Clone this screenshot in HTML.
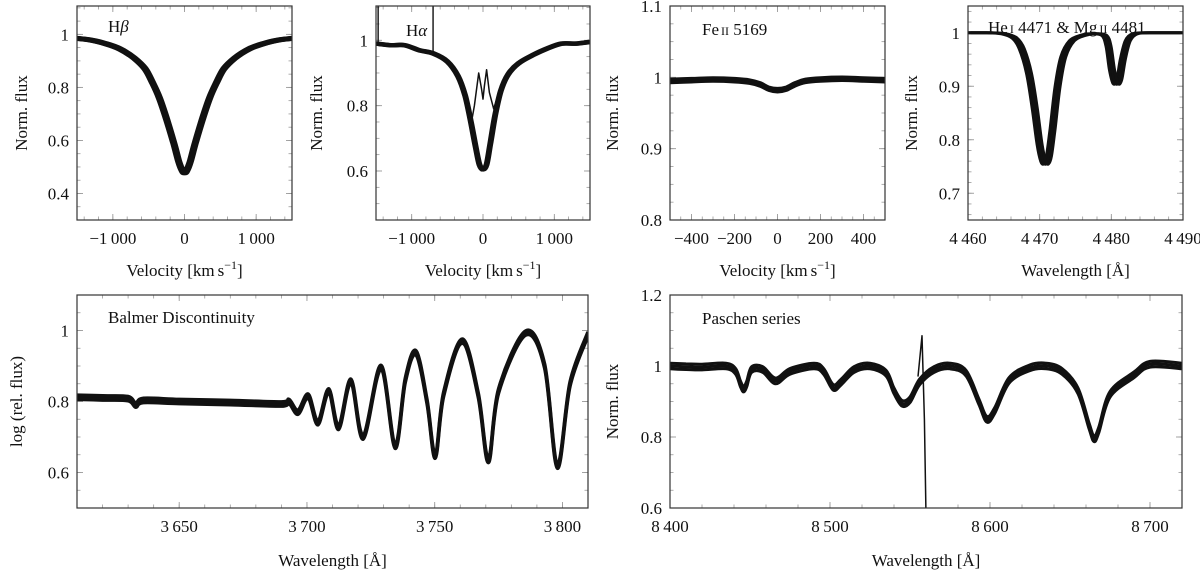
<!DOCTYPE html>
<html><head><meta charset="utf-8">
<style>
body{margin:0;background:#fff;}
svg{display:block;font-family:"Liberation Serif",serif;}
</style></head>
<body>
<svg id="fig" width="1200" height="570" viewBox="0 0 1200 570" xmlns="http://www.w3.org/2000/svg"></svg>
<script>
// ---- data ----
const hbVel = [-1500,-1300,-1100,-900,-700,-550,-450,-350,-250,-150,-80,-30,0,30,80,150,250,350,450,550,700,900,1100,1300,1500];
const hbFlux = [0.985,0.978,0.965,0.945,0.91,0.87,0.82,0.76,0.68,0.59,0.52,0.485,0.478,0.485,0.52,0.59,0.68,0.76,0.82,0.87,0.91,0.945,0.965,0.978,0.985];

const haVel = [-1500,-1300,-1100,-900,-700,-500,-350,-250,-170,-100,-50,0,50,100,170,250,350,500,700,900,1100,1300,1500];
const haFlux = [0.99,0.985,0.985,0.97,0.96,0.935,0.89,0.83,0.75,0.67,0.62,0.605,0.62,0.68,0.77,0.845,0.895,0.93,0.955,0.975,0.99,0.99,0.995];
const haEmVel = [-250,-170,-120,-60,-20,0,20,50,90,150,220];
const haEmFlux = [0.84,0.74,0.8,0.9,0.85,0.82,0.86,0.91,0.84,0.79,0.84];
const haSpikeVel = [-1470,-700];
const haSpikeFlux = [0.985,0.965];

const feVel = [-500,-400,-300,-200,-130,-80,-40,0,40,80,130,200,300,400,500];
const feFlux = [0.995,0.996,0.997,0.996,0.994,0.99,0.984,0.982,0.984,0.99,0.995,0.997,0.998,0.997,0.996];

const heWave = [4460,4463,4465,4466.5,4467.5,4468.5,4469.3,4470,4470.5,4470.9,4471.3,4471.8,4472.5,4473.3,4474.5,4476,4477.5,4479,4479.6,4480.1,4480.6,4481.1,4481.6,4482.3,4483.3,4485,4490];
const heFlux = [1.0,1.0,0.998,0.99,0.97,0.925,0.86,0.79,0.76,0.755,0.77,0.82,0.9,0.955,0.985,0.995,0.998,0.995,0.975,0.93,0.905,0.912,0.95,0.985,0.998,1.0,1.0];
const heShift = [-0.35,0,0.35];

const bdWave = [3610,3620,3630,3633,3636,3650,3670,3690,3693,3696.5,3700.5,3704.3,3708.5,3712.4,3717.2,3722,3729,3734.5,3738.5,3742.7,3747,3750.2,3753.5,3760.8,3767,3771,3775,3785.6,3793,3798,3803,3810];
const bdFlux = [0.812,0.81,0.808,0.79,0.803,0.8,0.797,0.793,0.8,0.77,0.815,0.74,0.83,0.727,0.857,0.70,0.896,0.674,0.86,0.937,0.8,0.646,0.82,0.97,0.82,0.634,0.83,0.993,0.9,0.618,0.85,0.99];
const bdShift = [-0.006,0,0.006];

const paWave = [8400,8410,8420,8435,8441,8444,8446,8448,8451,8458,8466,8475,8490,8496,8502,8507,8515,8525,8535,8540,8545,8550,8556,8565,8575,8585,8593,8598,8603,8612,8625,8635,8645,8655,8662,8665,8668,8675,8690,8700,8720];
const paFlux = [1.0,0.998,0.997,1.0,0.985,0.95,0.935,0.95,0.99,0.99,0.958,0.985,1.0,0.985,0.94,0.955,0.99,1.0,0.98,0.93,0.895,0.905,0.955,0.99,1.0,0.98,0.9,0.85,0.875,0.96,0.995,1.0,0.985,0.93,0.83,0.795,0.82,0.92,0.975,1.005,1.0];
const paSpikeWave = [8555,8557.5,8559,8560];
const paSpikeFlux = [0.97,1.085,0.85,0.58];

// ---- helpers ----
const svg = document.getElementById('fig');
const NS = 'http://www.w3.org/2000/svg';
function mk(tag, attrs, parent){
  const e = document.createElementNS(NS, tag);
  for (const k in attrs) e.setAttribute(k, attrs[k]);
  (parent||svg).appendChild(e);
  return e;
}
function fmt(v){
  let s = Math.abs(v).toString();
  if (Math.abs(v) >= 1000) s = s.slice(0, s.length-3) + '\u2009' + s.slice(-3);
  return (v < 0 ? '\u2212' : '') + s;
}
function smoothPath(pts){
  let d = 'M' + pts[0][0].toFixed(1) + ',' + pts[0][1].toFixed(1);
  for (let i = 0; i < pts.length-1; i++){
    const p0 = pts[Math.max(i-1,0)], p1 = pts[i], p2 = pts[i+1], p3 = pts[Math.min(i+2,pts.length-1)];
    const c1 = [p1[0]+(p2[0]-p0[0])/6, p1[1]+(p2[1]-p0[1])/6];
    const c2 = [p2[0]-(p3[0]-p1[0])/6, p2[1]-(p3[1]-p1[1])/6];
    d += 'C'+c1[0].toFixed(1)+','+c1[1].toFixed(1)+' '+c2[0].toFixed(1)+','+c2[1].toFixed(1)+' '+p2[0].toFixed(1)+','+p2[1].toFixed(1);
  }
  return d;
}
function panel(cfg){
  const g = mk('g', {});
  
  
  const {x0,x1,y0,y1,xmin,xmax,ymin,ymax} = cfg;
  const sx = v => x0 + (v-xmin)/(xmax-xmin)*(x1-x0);
  const sy = v => y1 - (v-ymin)/(ymax-ymin)*(y1-y0);
  const clipId = cfg.name + '-clip';
  const cp = mk('clipPath', {id: clipId}, g);
  mk('rect', {x:x0, y:y0, width:x1-x0, height:y1-y0}, cp);
  for (let v = Math.ceil(xmin/cfg.xminor-1e-9)*cfg.xminor; v <= xmax+1e-9; v += cfg.xminor){
    const X = sx(v);
    mk('line', {x1:X, x2:X, y1:y1, y2:y1-3.5, stroke:'#999', 'stroke-width':0.8}, g);
    mk('line', {x1:X, x2:X, y1:y0, y2:y0+3.5, stroke:'#999', 'stroke-width':0.8}, g);
  }
  for (let v = Math.ceil(ymin/cfg.yminor-1e-9)*cfg.yminor; v <= ymax+1e-9; v += cfg.yminor){
    const Y = sy(v);
    mk('line', {x1:x0, x2:x0+3.5, y1:Y, y2:Y, stroke:'#999', 'stroke-width':0.8}, g);
    mk('line', {x1:x1, x2:x1-3.5, y1:Y, y2:Y, stroke:'#999', 'stroke-width':0.8}, g);
  }
  cfg.xticks.forEach(v => {
    const X = sx(v);
    mk('line', {x1:X, x2:X, y1:y1, y2:y1-6, stroke:'#999', 'stroke-width':0.9}, g);
    mk('line', {x1:X, x2:X, y1:y0, y2:y0+6, stroke:'#999', 'stroke-width':0.9}, g);
    const t = mk('text', {x:X, y:y1+24, 'text-anchor':'middle', 'font-size':17, fill:'#111'}, g);
    t.textContent = fmt(v);
    
    
  });
  cfg.yticks.forEach(v => {
    const Y = sy(v);
    mk('line', {x1:x0, x2:x0+6, y1:Y, y2:Y, stroke:'#999', 'stroke-width':0.9}, g);
    mk('line', {x1:x1, x2:x1-6, y1:Y, y2:Y, stroke:'#999', 'stroke-width':0.9}, g);
    const t = mk('text', {x:x0-8, y:Y+6, 'text-anchor':'end', 'font-size':17, fill:'#111'}, g);
    t.textContent = String(v);
    
    
  });
  const sg = mk('g', {'clip-path':'url(#'+clipId+')'}, g);
  cfg.series.forEach(s => {
    const offs = s.shiftsX || [0];
    const offsY = s.shiftsY || [0];
    offs.forEach(dx => offsY.forEach(dy => {
      const pts = s.x.map((v,i) => [sx(v+dx), sy(s.y[i]+dy)]);
      const p = mk('path', {d: s.straight ? 'M'+pts.map(q=>q[0].toFixed(1)+','+q[1].toFixed(1)).join('L') : smoothPath(pts), fill:'none', stroke:'#111', 'stroke-width':s.w, 'stroke-linejoin':'round'}, sg);
      
      
    }));
  });
  (cfg.spikes||[]).forEach(sp => {
    sp.x.forEach((v,i) => {
      const l = mk('line', {x1:sx(v), x2:sx(v), y1:sy(sp.y[i]), y2:y0, stroke:'#111', 'stroke-width':1.4}, sg);
      
      
    });
  });
  const fr = mk('rect', {x:x0, y:y0, width:x1-x0, height:y1-y0, fill:'none', stroke:'#333', 'stroke-width':1.2}, g);
  
  
  const xl = mk('text', {x:(x0+x1)/2, y:cfg.xlabY, 'text-anchor':'middle', 'font-size':17, fill:'#111'}, g);
  xl.innerHTML = cfg.xlabel;
  
  
  const yl = mk('text', {x:0, y:0, 'text-anchor':'middle', 'font-size':17, fill:'#111', transform:'translate('+(cfg.ylabX)+','+((y0+y1)/2)+') rotate(-90)'}, g);
  yl.textContent = cfg.ylabel;
  
  
  const an = mk('text', {x:cfg.annX, y:cfg.annY, 'font-size':17, fill:'#111'}, g);
  an.innerHTML = cfg.ann;
  
  
}
const velLab = 'Velocity [km<tspan dx="3">s</tspan><tspan dy="-7" font-size="12">\u22121</tspan><tspan dy="7">]</tspan>';
const wavLab = 'Wavelength [Å]';

panel({name:'hbeta-panel', x0:77,x1:292,y0:6,y1:220, xmin:-1500,xmax:1500,ymin:0.3,ymax:1.107,
  xticks:[-1000,0,1000], yticks:[0.4,0.6,0.8,1], xminor:200, yminor:0.05,
  series:[{name:'hbeta-spectra', x:hbVel, y:hbFlux, w:5, shiftsX:[-15,0,15]}],
  xlabel:velLab, xlabY:276, ylabel:'Norm. flux', ylabX:27, ann:'H<tspan font-style="italic">β</tspan>', annX:108, annY:32});

panel({name:'halpha-panel', x0:376,x1:590,y0:6,y1:220, xmin:-1500,xmax:1500,ymin:0.45,ymax:1.105,
  xticks:[-1000,0,1000], yticks:[0.6,0.8,1], xminor:200, yminor:0.05,
  series:[{name:'halpha-spectra', x:haVel, y:haFlux, w:4.5, shiftsX:[-10,10]},
          {name:'halpha-emission-epoch', x:haEmVel, y:haEmFlux, w:1.5, straight:true}],
  spikes:[{x:haSpikeVel, y:haSpikeFlux}],
  xlabel:velLab, xlabY:276, ylabel:'Norm. flux', ylabX:322, ann:'H<tspan font-style="italic">α</tspan>', annX:406, annY:36});

panel({name:'feii-panel', x0:670,x1:885,y0:6,y1:220, xmin:-500,xmax:500,ymin:0.8,ymax:1.1,
  xticks:[-400,-200,0,200,400], yticks:[0.8,0.9,1,1.1], xminor:50, yminor:0.025,
  series:[{name:'feii-spectra', x:feVel, y:feFlux, w:3, shiftsY:[-0.0025,0,0.0025]}],
  xlabel:velLab, xlabY:276, ylabel:'Norm. flux', ylabX:618, ann:'Fe<tspan font-size="12" dx="2">II</tspan> 5169', annX:702, annY:35});

panel({name:'hei-mgii-panel', x0:968,x1:1183,y0:6,y1:220, xmin:4460,xmax:4490,ymin:0.65,ymax:1.05,
  xticks:[4460,4470,4480,4490], yticks:[0.7,0.8,0.9,1], xminor:2, yminor:0.02,
  series:[{name:'hei-mgii-spectra', x:heWave, y:heFlux, w:3, shiftsX:heShift}],
  xlabel:wavLab, xlabY:276, ylabel:'Norm. flux', ylabX:917, ann:'He<tspan font-size="12" dx="2">I</tspan> 4471 &amp; Mg<tspan font-size="12" dx="2">II</tspan> 4481', annX:988, annY:33});

panel({name:'balmer-panel', x0:77,x1:588,y0:295,y1:508, xmin:3610,xmax:3810,ymin:0.5,ymax:1.1,
  xticks:[3650,3700,3750,3800], yticks:[0.6,0.8,1], xminor:10, yminor:0.05,
  series:[{name:'balmer-spectra', x:bdWave, y:bdFlux, w:3.5, shiftsY:bdShift}],
  xlabel:wavLab, xlabY:566, ylabel:'log (rel. flux)', ylabX:22, ann:'Balmer Discontinuity', annX:108, annY:323});

panel({name:'paschen-panel', x0:670,x1:1182,y0:295,y1:508, xmin:8400,xmax:8720,ymin:0.6,ymax:1.2,
  xticks:[8400,8500,8600,8700], yticks:[0.6,0.8,1,1.2], xminor:20, yminor:0.05,
  series:[{name:'paschen-spectra', x:paWave, y:paFlux, w:3, shiftsY:[-0.008,0,0.008]},
          {name:'paschen-spike-epoch', x:paSpikeWave, y:paSpikeFlux, w:1.5, straight:true}],
  xlabel:wavLab, xlabY:566, ylabel:'Norm. flux', ylabX:618, ann:'Paschen series', annX:702, annY:324});
</script>
</body></html>
